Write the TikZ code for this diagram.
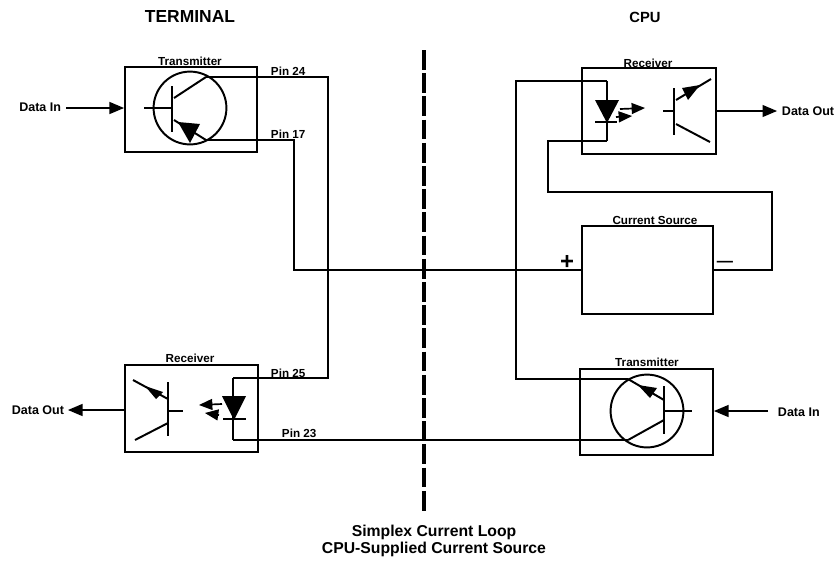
\documentclass[tikz,border=0pt]{standalone}
\usepackage{fontspec}
\setmainfont{Liberation Sans}
\usetikzlibrary{arrows}
\tikzset{
	wire/.style={line width=1.4pt},
	super thick/.style={line width=3.4pt}
}
\tikzstyle{box} = [rectangle,draw,line width=1.4pt,inner sep=0pt]
\tikzstyle{bulb} = [circle,draw,line width=1.4pt,inner sep=0pt,minimum size=1.82cm]
\tikzstyle{lab} = [font=\fontsize{8.3}{9}\bfseries\selectfont,inner sep=0pt]
\tikzstyle{datalab} = [font=\fontsize{8.9}{9}\bfseries\selectfont,inner sep=0pt]
\tikzstyle{head} = [font=\fontsize{12.4}{13}\bfseries\selectfont,inner sep=0pt]
\tikzstyle{dataline} = [wire,-triangle 45]
\tikzstyle{lightline} = [line width=1.2pt,-triangle 45]
\newcommand{\wedgeNfill}[3]{
	\fill #1 -- #2 -- #3 -- cycle;
}
\begin{document}
\begin{tikzpicture}[x=.025cm,y=-.025cm,wire]
	\useasboundingbox (0,0) rectangle (834,562);
	\node[head] (terminal) at (190,16) {TERMINAL};
	\node[head,font=\fontsize{10.5}{12}\bfseries\selectfont] (cpu) at (645,17) {CPU};
	% terminal transmitter
	\node[box,minimum width=3.3cm,minimum height=2.125cm] (txa) at (191,109.5) {};
	\node[lab] (txalab) at (190,61) {Transmitter};
	\node[bulb] (qa) at (190,108) {};
	\coordinate (qabase) at (172,108);
	\coordinate (qacoll) at (206,77);
	\coordinate (qaemit) at (206,140);
	\draw (144,108) -- (qabase);
	\draw (172,86) -- (172,132);
	\draw (174,98) -- (qacoll);
	\draw (174,120) -- (qaemit);
	\wedgeNfill{(178,122)}{(200,124)}{(190,143)}
	% terminal receiver
	\node[box,minimum width=3.325cm,minimum height=2.175cm] (rxa) at (191.5,408.5) {};
	\node[lab] (rxalab) at (190,358) {Receiver};
	\draw (168,382) -- (168,436);
	\draw (168,411) -- (183,411);
	\draw (133,380) -- (168,399);
	\draw (135,440) -- (168,423);
	\wedgeNfill{(145,386)}{(163,392)}{(156,399)}
	\coordinate (daan) at (233,378);
	\coordinate (daca) at (233,440);
	\draw (daan) -- (daca);
	\wedgeNfill{(222,396)}{(246,396)}{(234,420)}
	\draw (223,419) -- (246,419);
	\draw[lightline] (222,404) -- (199,405);
	\draw[lightline] (219,415) -- (205,413);
	% cpu receiver
	\node[box,minimum width=3.35cm,minimum height=2.15cm] (rxb) at (649,111) {};
	\node[lab] (rxblab) at (648,63) {Receiver};
	\coordinate (dban) at (607,81);
	\coordinate (dbca) at (607,141);
	\draw (dban) -- (dbca);
	\wedgeNfill{(595,100)}{(619,100)}{(607,123)}
	\draw (595,122) -- (617,122);
	\draw[lightline] (620,109) -- (645,108);
	\draw[lightline] (616,117) -- (632,116);
	\draw (674,88) -- (674,135);
	\draw (663,111) -- (674,111);
	\draw (676,100) -- (711,79);
	\draw (676,124) -- (710,142);
	\wedgeNfill{(682,88)}{(700,85)}{(688,100)}
	% current source
	\node[box,minimum width=3.275cm,minimum height=2.2cm] (src) at (647.5,270) {};
	\node[lab] (srclab) at (655,220) {Current Source};
	\node[font=\fontsize{17}{18}\bfseries\selectfont,inner sep=0pt] (plus) at (567,262) {+};
	\node[font=\fontsize{11.5}{12}\bfseries\selectfont,inner sep=0pt] (minus) at (725,264) {---};
	% cpu transmitter
	\node[box,minimum width=3.325cm,minimum height=2.15cm] (txb) at (646.5,412) {};
	\node[lab] (txblab) at (647,362) {Transmitter};
	\node[bulb] (qb) at (647,411) {};
	\coordinate (qbcoll) at (628,379);
	\coordinate (qbemit) at (628,440);
	\draw (664,386) -- (664,434);
	\draw (664,411) -- (692,411);
	\draw (qbcoll) -- (664,400);
	\draw (qbemit) -- (664,420);
	\wedgeNfill{(638,385)}{(657,388)}{(650,398)}
	% data lines
	\node[datalab,anchor=east] (ina) at (62,107) {Data In};
	\node[datalab,anchor=east] (outa) at (65,410) {Data Out};
	\node[datalab,anchor=west] (outb) at (781,111) {Data Out};
	\node[datalab,anchor=west] (inb) at (777,412) {Data In};
	\draw[dataline] (66,108) -- (66,108 -| txa.west);
	\draw[dataline] (68,410 -| rxa.west) -- (68,410);
	\draw[dataline] (716,111) -- (777,111);
	\draw[dataline] (768,411) -- (768,411 -| txb.east);
	% loop wires
	\draw (qacoll) -- (328,77) -- (328,378) -- (daan);
	\draw (qaemit) -- (294,140) -- (294,270) -- (src.west);
	\draw (daca) -- (qbemit);
	\draw (src.east) -- (772,270) -- (772,192) -- (548,192) -- (548,141) -- (dbca);
	\draw (dban) -- (516,81) -- (516,379) -- (qbcoll);
	\node[lab,anchor=west] (pina) at (270,71) {Pin 24};
	\node[lab,anchor=west] (pinb) at (270,134) {Pin 17};
	\node[lab,anchor=west] (pinc) at (270,373) {Pin 25};
	\node[lab,anchor=west] (pind) at (281,433) {Pin 23};
	% divider
	\coordinate (diva) at (424,50);
	\coordinate (divb) at (424,513);
	\draw[super thick,dash pattern=on 14pt off 2.5pt] (diva) -- (divb);
	\node[lab,font=\fontsize{11.2}{12}\bfseries\selectfont,align=center] (caption) at (434,541) {Simplex Current Loop\\CPU-Supplied Current Source};
\end{tikzpicture}
\end{document}
